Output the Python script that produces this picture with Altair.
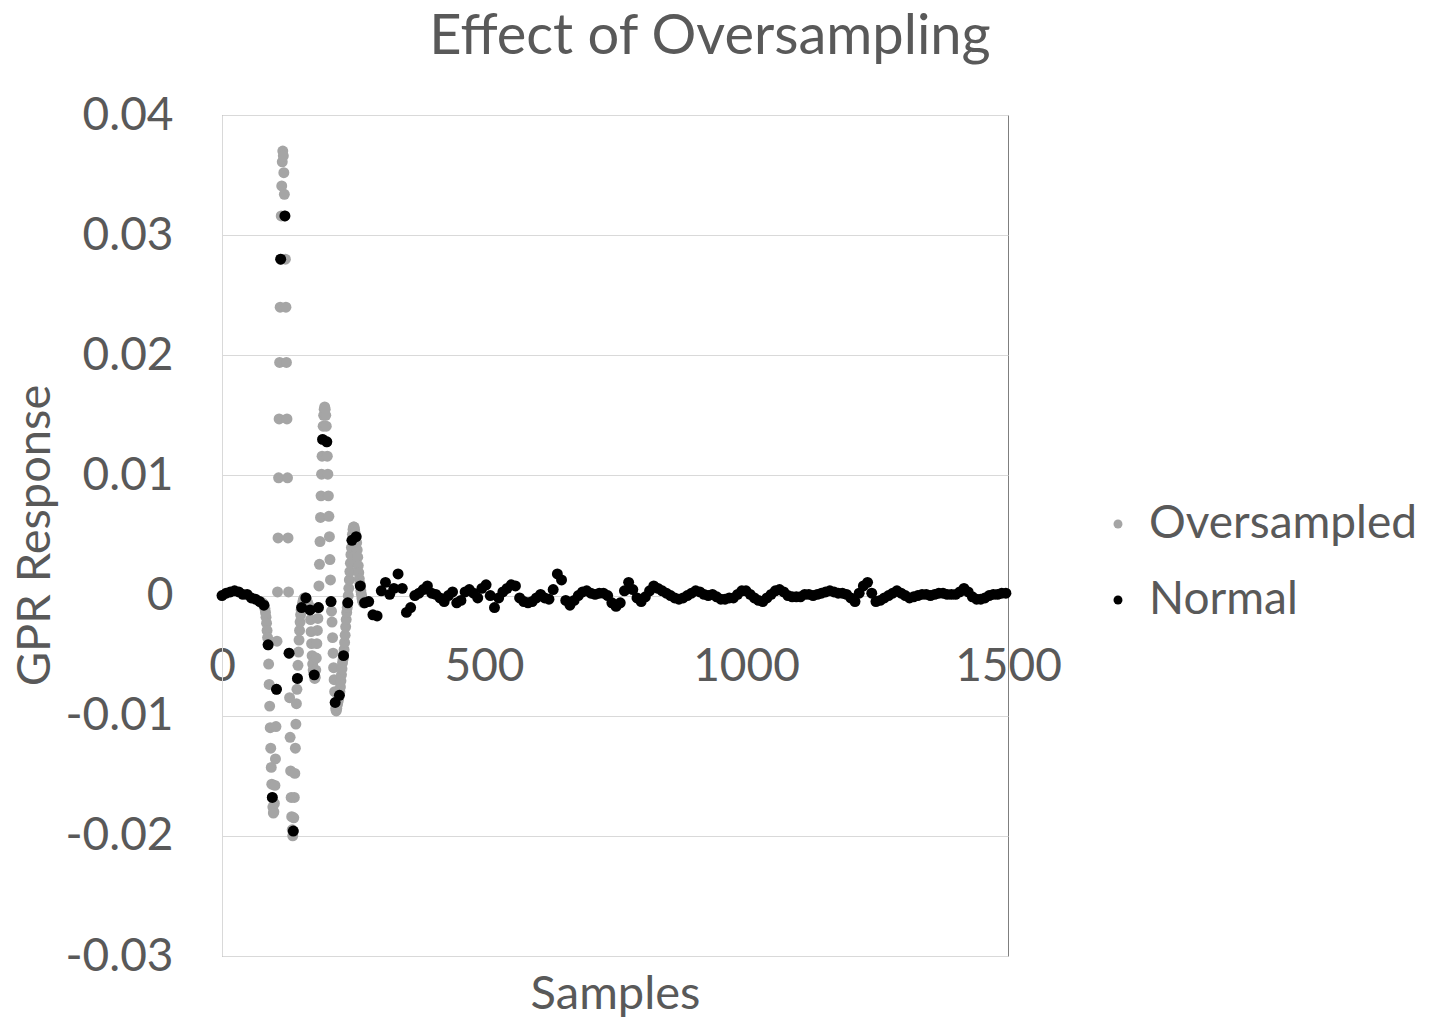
import altair as alt
import pandas as pd

# ---------------- data ----------------
series_names = ["Oversampled", "Normal"]
series_colors = ["#A5A5A5", "#000000"]

# "Normal" trace: one value every 8 samples, starting at sample 0
normal_step = 8
normal_values = [
    0.0000, 0.0002, 0.0003, 0.0004, 0.0003, 0.0001, 0.0001, -0.0002, -0.0003, -0.0005, -0.0008,
    -0.0041, -0.0168, -0.0078, 0.0280, 0.0316, -0.0048, -0.0196, -0.0069,
    -0.0010, -0.0002, -0.0012, -0.0066, -0.0010, 0.0130, 0.0128, -0.0005, -0.0089, -0.0083, -0.0050, -0.0006,
    0.0046, 0.0049, 0.0008, -0.0006, -0.0005, -0.0016, -0.0017, 0.0004, 0.0011, 0.0001, 0.0006, 0.0018, 0.0006, -0.0014,
    -0.0010, 0.0000, 0.0002, 0.0005, 0.0008, 0.0002, 0.0001, -0.0002, -0.0005, 0.0000, 0.0003, -0.0006, -0.0004,
    0.0003, 0.0005, 0.0002, -0.0002, 0.0006, 0.0009, 0.0000, -0.0010, -0.0002, 0.0003, 0.0006, 0.0009, 0.0008,
    -0.0002, -0.0005, -0.0006, -0.0005, -0.0002, 0.0001, -0.0002, -0.0003, 0.0005, 0.0018, 0.0013, -0.0004, -0.0008,
    -0.0004, 0.0000, 0.0003, 0.0004, 0.0002, 0.0001, 0.0002,
    0.0002, 0.0000, -0.0006, -0.0009, -0.0006, 0.0004, 0.0011, 0.0005, -0.0002, -0.0005, -0.0001, 0.0004, 0.0008,
    0.0006, 0.0004, 0.0002, 0.0000, -0.0002, -0.0003, -0.0002,
    0.0000, 0.0002, 0.0004, 0.0003, 0.0001, 0.0000, 0.0001, -0.0001, -0.0003, -0.0003, -0.0002, -0.0002, 0.0001,
    0.0004, 0.0004, 0.0001, -0.0002, -0.0004, -0.0005, -0.0002, 0.0001, 0.0004, 0.0005, 0.0003, 0.0000, -0.0001,
    -0.0001, -0.0001,
    0.0001, 0.0001, 0.0000, 0.0001, 0.0002, 0.0003, 0.0004, 0.0003, 0.0002, 0.0002, 0.0001, -0.0002, -0.0005,
    0.0002, 0.0008, 0.0011, 0.0002, -0.0005, -0.0004, -0.0002, 0.0000, 0.0002, 0.0004, 0.0002, 0.0000, -0.0002,
    -0.0001, 0.0000, 0.0001, 0.0001, 0.0000, 0.0001, 0.0002, 0.0002, 0.0001, 0.0001, 0.0001, 0.0003, 0.0006,
    0.0003, -0.0001, -0.0003, -0.0003, -0.0002, 0.0000, 0.0001, 0.0001, 0.0002, 0.0002,
]

# "Oversampled" trace: one value per sample over the region where it shows (samples 76..272)
over_start = 76
over_values = [
    -0.0006, -0.0006, -0.0007, -0.0007,
    -0.0008, -0.0009, -0.0011, -0.0014, -0.0018, -0.0023, -0.0029, -0.0035, -0.0041, -0.0057,
    -0.0074, -0.0092, -0.0110, -0.0127, -0.0143, -0.0157, -0.0168, -0.0176, -0.0181, -0.0180,
    -0.0173, -0.0158, -0.0136, -0.0109, -0.0078, -0.0038, 0.0003, 0.0048, 0.0098, 0.0147,
    0.0194, 0.0240, 0.0280, 0.0316, 0.0341, 0.0361, 0.0370, 0.0366, 0.0352, 0.0334,
    0.0316, 0.0280, 0.0240, 0.0194, 0.0147, 0.0098, 0.0048, 0.0003, -0.0048, -0.0085,
    -0.0118, -0.0146, -0.0168, -0.0184, -0.0195, -0.0200, -0.0196, -0.0185, -0.0168, -0.0148,
    -0.0127, -0.0107, -0.0090, -0.0078, -0.0069, -0.0058, -0.0047, -0.0037, -0.0029, -0.0022,
    -0.0016, -0.0012, -0.0010, -0.0008, -0.0006, -0.0004, -0.0003, -0.0002, -0.0002, -0.0002,
    -0.0002, -0.0003, -0.0004, -0.0006, -0.0007, -0.0008, -0.0009, -0.0011, -0.0012, -0.0020,
    -0.0030, -0.0040, -0.0050, -0.0057, -0.0062, -0.0064, -0.0066, -0.0069, -0.0068, -0.0062,
    -0.0052, -0.0040, -0.0029, -0.0019, -0.0010, 0.0008, 0.0026, 0.0045, 0.0065, 0.0083,
    0.0101, 0.0116, 0.0130, 0.0141, 0.0150, 0.0155, 0.0157, 0.0155, 0.0150, 0.0141,
    0.0128, 0.0116, 0.0101, 0.0083, 0.0066, 0.0049, 0.0030, 0.0013, -0.0005, -0.0013,
    -0.0022, -0.0035, -0.0048, -0.0060, -0.0070, -0.0080, -0.0089, -0.0094, -0.0096, -0.0094,
    -0.0091, -0.0089, -0.0087, -0.0085, -0.0083, -0.0080, -0.0076, -0.0071, -0.0066, -0.0061,
    -0.0056, -0.0053, -0.0050, -0.0045, -0.0039, -0.0033, -0.0026, -0.0020, -0.0014, -0.0010,
    -0.0006, 0.0000, 0.0006, 0.0013, 0.0020, 0.0027, 0.0034, 0.0040, 0.0046, 0.0051,
    0.0055, 0.0057, 0.0057, 0.0055, 0.0052, 0.0050, 0.0049, 0.0044, 0.0038, 0.0032,
    0.0025, 0.0019, 0.0014, 0.0010, 0.0008, 0.0004, 0.0001, -0.0002, -0.0004, -0.0005,
    -0.0006, -0.0006, -0.0006,
]

x_ticks = [0, 500, 1000, 1500]
y_ticks = [-0.03, -0.02, -0.01, 0, 0.01, 0.02, 0.03, 0.04]

rows = []
for i, v in enumerate(over_values):
    rows.append({"series": "Oversampled", "sample": over_start + i, "value": v, "layer": 0})
for i, v in enumerate(normal_values):
    rows.append({"series": "Normal", "sample": i * normal_step, "value": v, "layer": 1})
df = pd.DataFrame(rows)

# ---------------- styling ----------------
FONT = "Lato"
TXT = "#595959"
GRID = "#D9D9D9"

y_label_expr = (
    "datum.value == 0 ? '0' : (datum.value < 0 ? '-' + format(-datum.value, '.2f') "
    ": format(datum.value, '.2f'))"
)

chart = (
    alt.Chart(df)
    .mark_circle(size=120, opacity=1)
    .encode(
        x=alt.X(
            "sample:Q",
            scale=alt.Scale(domain=[0, 1500], nice=False, zero=False),
            axis=alt.Axis(
                values=x_ticks,
                format="d",
                title="Samples",
                grid=False,
                ticks=False,
                domain=False,
                offset=-360,
                labelFont=FONT,
                labelFontSize=46,
                labelColor=TXT,
                labelPadding=48,
                labelFlush=False,
                labelOverlap=False,
                titleFont=FONT,
                titleFontSize=47,
                titleColor=TXT,
                titleFontWeight="normal",
                titleBaseline="alphabetic",
                titleY=412,
            ),
        ),
        y=alt.Y(
            "value:Q",
            scale=alt.Scale(domain=[-0.03, 0.04], nice=False, zero=False),
            axis=alt.Axis(
                values=y_ticks,
                title="GPR Response",
                grid=True,
                gridColor=GRID,
                gridWidth=1,
                ticks=False,
                domain=True,
                domainColor=GRID,
                labelExpr=y_label_expr,
                labelFont=FONT,
                labelFontSize=46,
                labelColor=TXT,
                labelPadding=49,
                titleFont=FONT,
                titleFontSize=47,
                titleColor=TXT,
                titleFontWeight="normal",
                titleAngle=270,
                titleAlign="center",
                titleBaseline="middle",
                titleX=-187,
                titleY=420,
            ),
        ),
        color=alt.Color(
            "series:N",
            scale=alt.Scale(domain=series_names, range=series_colors),
            legend=alt.Legend(
                title=None,
                orient="none",
                legendX=873,
                legendY=386,
                symbolType="circle",
                symbolSize=80,
                symbolStrokeWidth=0,
                labelFont=FONT,
                labelFontSize=46,
                labelColor=TXT,
                labelOffset=8,
                labelLimit=0,
                rowPadding=30,
            ),
        ),
        order=alt.Order("layer:Q"),
    )
    .properties(
        width=786,
        height=841,
        autosize=alt.AutoSizeParams(type="none"),
        padding={"left": 222, "top": 115, "right": 422, "bottom": 61},
        background="white",
        title=alt.TitleParams(
            "Effect of Oversampling",
            font=FONT,
            fontSize=56,
            fontWeight="normal",
            color=TXT,
            anchor="middle",
            dx=95,
            dy=53,
            baseline="alphabetic",
            offset=35,
        ),
    )
    .configure_view(stroke="#7F7F7F", strokeWidth=1)
)

chart.save("out.html", embed_options={"renderer": "svg", "actions": False})
